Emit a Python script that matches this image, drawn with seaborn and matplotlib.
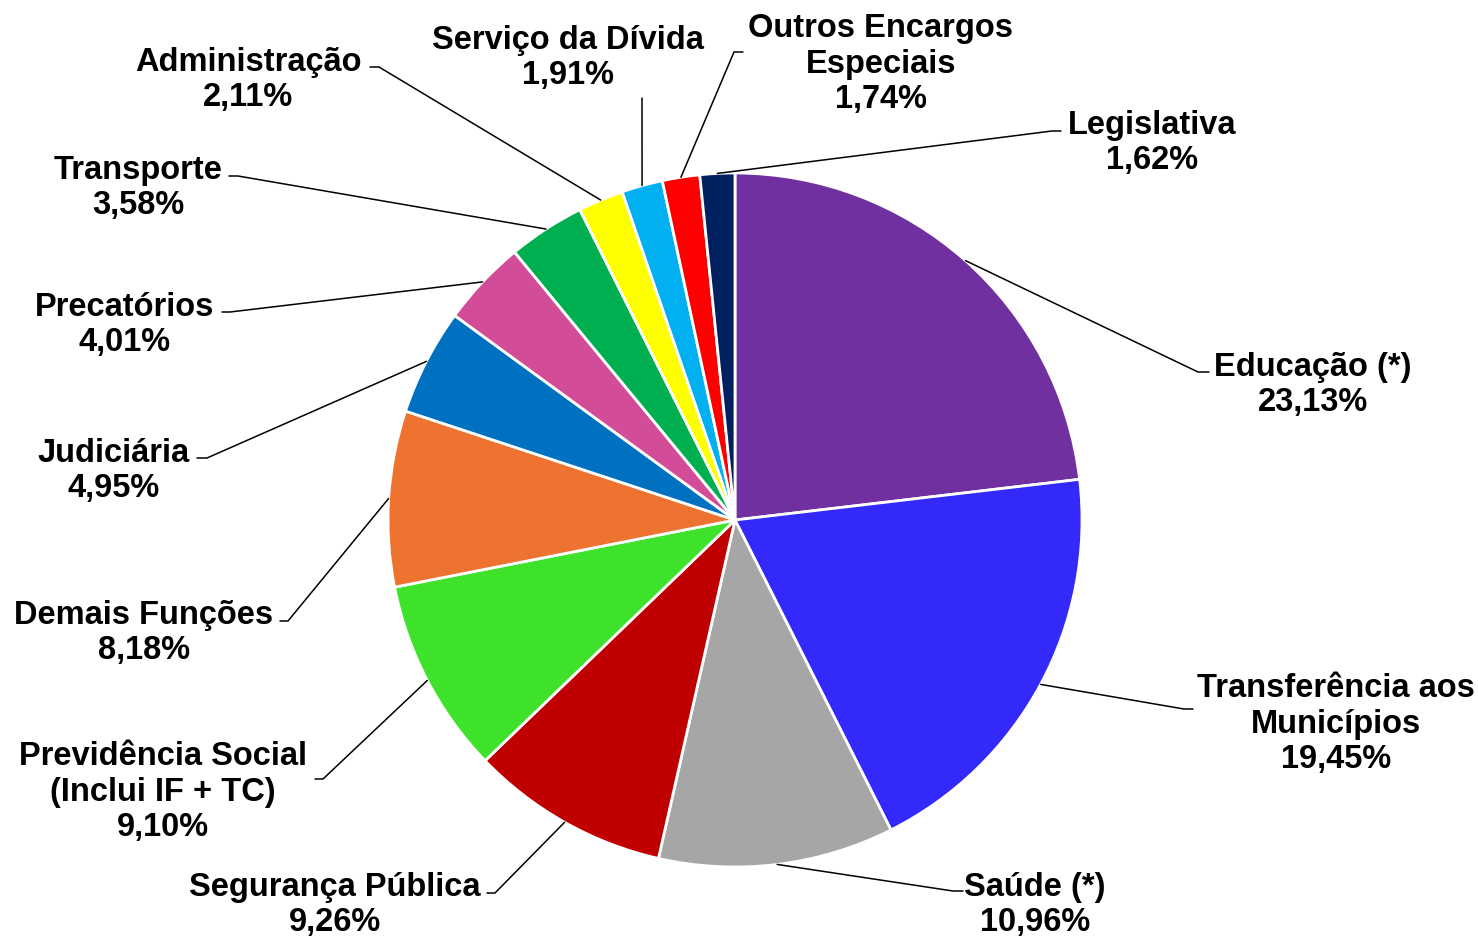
import numpy as np
import matplotlib
matplotlib.use("Agg")
import matplotlib.pyplot as plt
import seaborn as sns

# dados do grafico (% da despesa por funcao)
categorias = ["Educação (*)", "Transferência aos\nMunicípios", "Saúde (*)",
              "Segurança Pública", "Previdência Social\n(Inclui IF + TC)",
              "Demais Funções", "Judiciária", "Precatórios", "Transporte",
              "Administração", "Serviço da Dívida", "Outros Encargos\nEspeciais",
              "Legislativa"]
percentuais = [23.13, 19.45, 10.96, 9.26, 9.10, 8.18, 4.95, 4.01, 3.58,
               2.11, 1.91, 1.74, 1.62]
cores = ["#7030A0", "#3229FA", "#A6A6A6", "#C00000", "#3FE22B", "#EE7230",
         "#0070C0", "#D34C97", "#00B050", "#FFFF00", "#00B0F0", "#FF0000",
         "#002060"]

# posicao dos rotulos (pixels): centro do texto, cotovelo da linha, ponta
pos_texto = [(1313, 385), (1336, 724), (1035, 905), (335, 905), (163, 792),
             (144, 633), (114, 471), (125, 325), (138, 188), (248, 80),
             (568, 58), (881, 64), (1152, 143)]
cotovelo = [(1198, 372), (1184, 709), (953, 891), (495, 893), (323, 779),
            (288, 621), (207, 458), (230, 312), (238, 176), (379, 67),
            (642, 98), (734, 52), (1052, 131)]
ponta_x = [1209, 1193, 963, 487, 315, 280, 197, 222, 229, 370, 642, 743, 1061]

W, H = 1478, 936
centro = (735, 520)
raio = 347

sns.set_theme(style="white")
plt.rcParams['font.family'] = ['Liberation Sans', 'DejaVu Sans']

fig = plt.figure(figsize=(W / 100, H / 100), dpi=100)
ax = fig.add_axes([0, 0, 1, 1])

# eixo y invertido -> startangle=-90 e counterclock=True ficam horario a partir do topo
wedges, _ = ax.pie(percentuais, colors=sns.color_palette(cores), startangle=-90,
                   counterclock=True, center=centro, radius=raio,
                   wedgeprops=dict(edgecolor="white", linewidth=2))
ax.set_xlim(0, W)
ax.set_ylim(H, 0)
ax.axis("off")

for i, w in enumerate(wedges):
    ang = np.deg2rad((w.theta1 + w.theta2) / 2)
    x0 = centro[0] + raio * np.cos(ang)
    y0 = centro[1] + raio * np.sin(ang)
    ex, ey = cotovelo[i]
    ax.plot([x0, ex, ponta_x[i]], [y0, ey, ey], color="black", lw=1.1,
            solid_joinstyle="miter")
    pct = f"{percentuais[i]:.2f}".replace(".", ",")
    tx, ty = pos_texto[i]
    ax.text(tx, ty, f"{categorias[i]}\n{pct}%", ha="center", va="center",
            fontsize=23.5, fontweight="bold", linespacing=1.2, color="black")

fig.savefig("out.png", dpi=100)
